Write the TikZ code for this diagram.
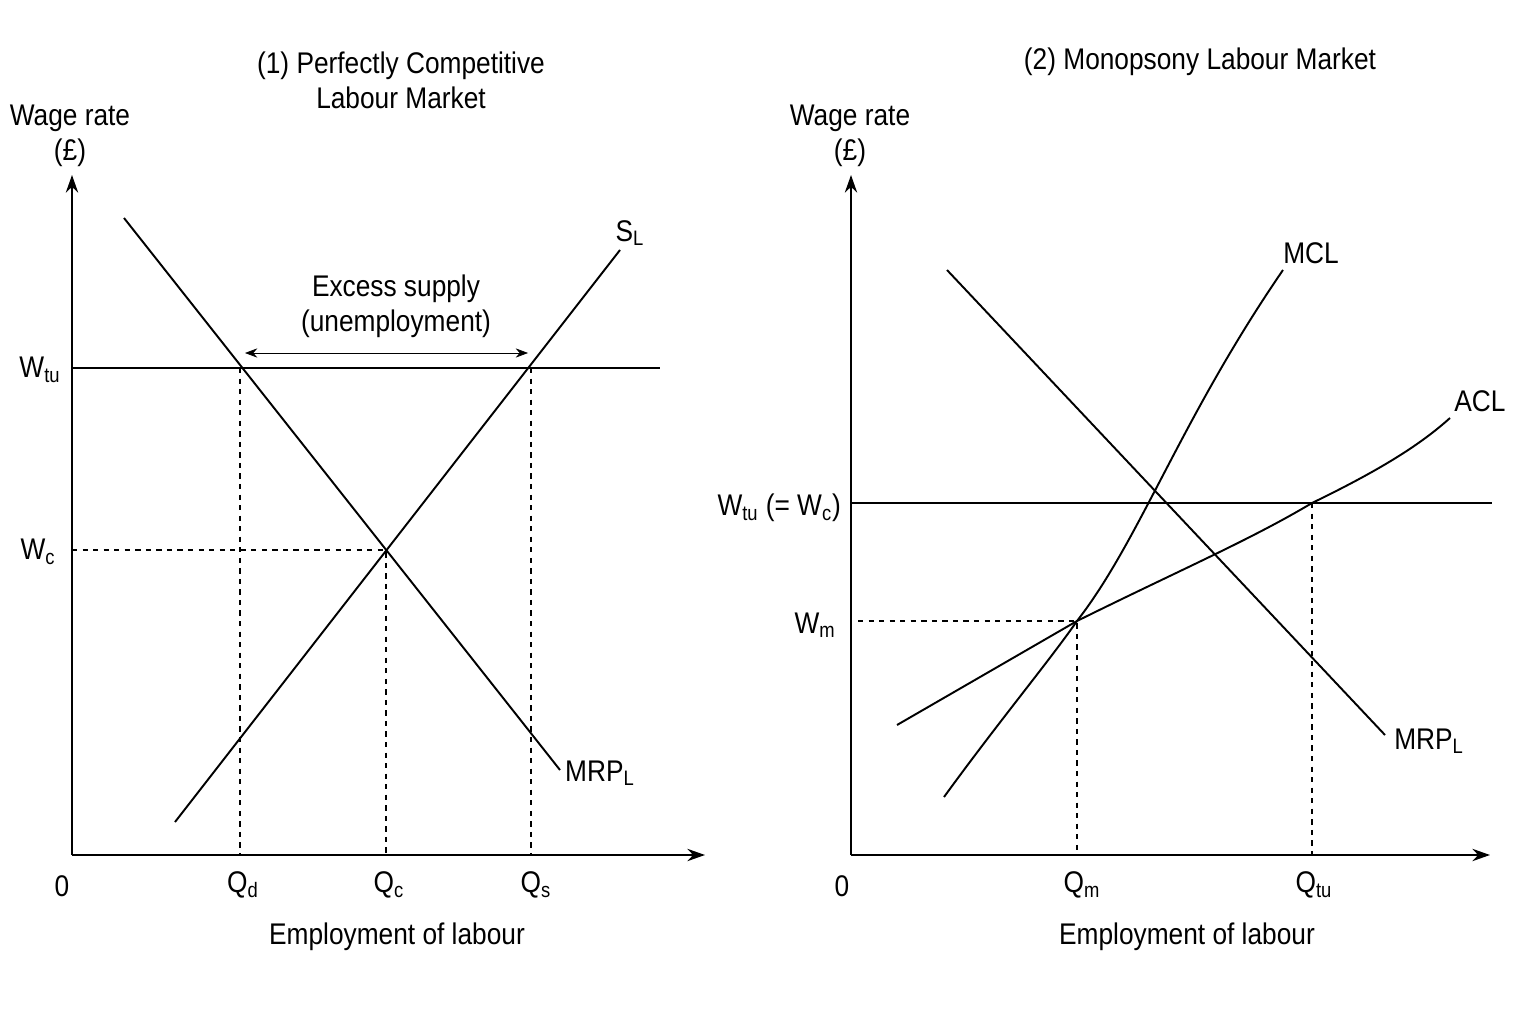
\documentclass[tikz,border=0pt]{standalone}
\usepackage{fontspec}
\setmainfont[FakeStretch=0.88]{Liberation Sans}
\usetikzlibrary{arrows.meta}
\begin{document}
\begin{tikzpicture}[x=0.02cm,y=-0.02cm,font=\fontsize{17}{20}\selectfont,
    axis/.style={-{Stealth[length=10pt,width=7pt]},line width=1.2pt},
    curve/.style={line width=1.1pt},
    guide/.style={line width=1.1pt,dashed},
    lbl/.style={inner sep=1pt}]
  \useasboundingbox (0,0) rectangle (1536,1024);

  % (1) perfectly competitive
  \coordinate (O1) at (72,855);
  \coordinate (Y1) at (72,175);
  \coordinate (X1) at (705,855);
  \draw[axis] (O1) -- (Y1);
  \draw[axis] (O1) -- (X1);
  \node[align=center] at (401,80) {(1) Perfectly Competitive\\Labour Market};
  \node[align=center] at (70,136) {Wage rate\\(\pounds)};
  \node at (62,886) {0};
  \node at (397,937) {Employment of labour};

  \coordinate (Wtu1) at (72,368);
  \coordinate (Wtu1e) at (660,368);
  \coordinate (Wc1) at (72,550);
  \coordinate (D1) at (124,218);
  \coordinate (D2) at (560,770);
  \coordinate (S1) at (175,822);
  \coordinate (S2) at (620,250);
  \coordinate (Ed) at (240,368);
  \coordinate (Ec) at (386,550);
  \coordinate (Es) at (531,368);
  \draw[curve] (Wtu1) -- (Wtu1e);
  \draw[curve] (D1) -- (D2);
  \draw[curve] (S1) -- (S2);
  \draw[guide] (Wc1) -- (Ec) -- (Ec |- O1);
  \draw[guide] (Ed) -- (Ed |- O1);
  \draw[guide] (Es) -- (Es |- O1);
  \coordinate (A1) at (245,353);
  \coordinate (A2) at (528,353);
  \draw[{Stealth[length=7pt]}-{Stealth[length=7pt]}] (A1) -- (A2);
  \node[align=center] at (396,306) {Excess supply\\(unemployment)};
  \node[lbl] at (40,370) {W\textsubscript{tu}};
  \node[lbl] at (38,552) {W\textsubscript{c}};
  \node[lbl] at (243,885) {Q\textsubscript{d}};
  \node[lbl] at (389,885) {Q\textsubscript{c}};
  \node[lbl] at (536,885) {Q\textsubscript{s}};
  \node[lbl] at (630,233) {S\textsubscript{L}};
  \node[lbl] at (600,773) {MRP\textsubscript{L}};

  % (2) monopsony
  \coordinate (O2) at (851,855);
  \coordinate (Y2) at (851,175);
  \coordinate (X2) at (1490,855);
  \draw[axis] (O2) -- (Y2);
  \draw[axis] (O2) -- (X2);
  \node at (1200,62) {(2) Monopsony Labour Market};
  \node[align=center] at (850,136) {Wage rate\\(\pounds)};
  \node at (842,886) {0};
  \node at (1187,937) {Employment of labour};

  \coordinate (Wtu2) at (851,503);
  \coordinate (Wtu2e) at (1492,503);
  \coordinate (Wm) at (858,621);
  \coordinate (Em) at (1077,621);
  \coordinate (Etu) at (1312,503);
  \draw[curve] (Wtu2) -- (Wtu2e);
  \draw[curve] (947,270) -- (1385,735);
  \draw[curve] (944,797) .. controls (1000,720) and (1050,660) .. (Em)
     .. controls (1140,540) and (1180,420) .. (1283,270);
  \draw[curve] (897,725) -- (Em) .. controls (1180,570) and (1250,540) .. (Etu)
     .. controls (1380,470) and (1420,445) .. (1450,418);
  \draw[guide] (Wm) -- (Em) -- (Em |- O2);
  \draw[guide] (Etu) -- (Etu |- O2);
  \node[lbl,anchor=east] at (843,508) {W\textsubscript{tu} (= W\textsubscript{c})};
  \node[lbl] at (815,625) {W\textsubscript{m}};
  \node[lbl] at (1082,885) {Q\textsubscript{m}};
  \node[lbl] at (1314,885) {Q\textsubscript{tu}};
  \node[lbl] at (1311,253) {MCL};
  \node[lbl] at (1480,401) {ACL};
  \node[lbl] at (1429,741) {MRP\textsubscript{L}};
\end{tikzpicture}
\end{document}
